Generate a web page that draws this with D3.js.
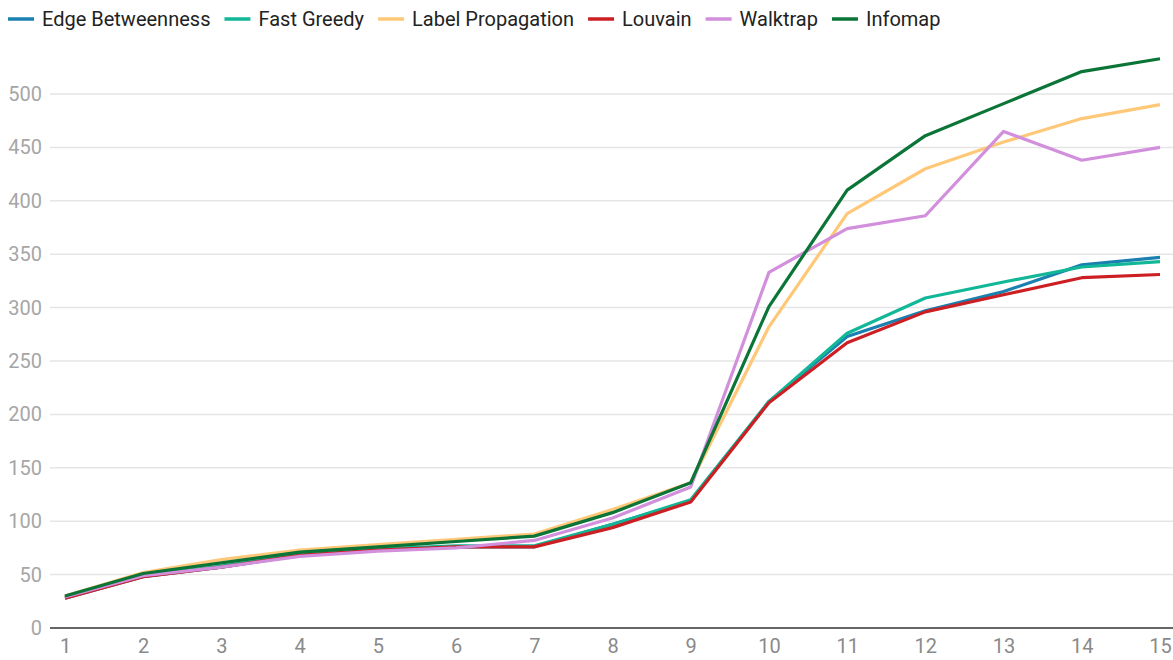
<!DOCTYPE html>
<html>
<head>
<meta charset="utf-8">
<script src="https://cdn.jsdelivr.net/npm/d3@7"></script>
<style>
  html, body { margin: 0; padding: 0; background: #fff; }
  svg { display: block; font-family: Roboto, "Noto Sans", sans-serif; }
</style>
</head>
<body>
<svg id="chart" width="1173" height="660"></svg>
<script>
// Step numbers along the x axis
const steps = [1, 2, 3, 4, 5, 6, 7, 8, 9, 10, 11, 12, 13, 14, 15];
const yTicks = [0, 50, 100, 150, 200, 250, 300, 350, 400, 450, 500];

// One array per community detection algorithm
const edgeBetweenness = [28, 48, 57, 68, 73, 76, 76, 97, 119, 212, 273, 297, 315, 340, 347];
const fastGreedy      = [29, 49, 58, 69, 74, 77, 77, 97, 120, 212, 276, 309, 324, 338, 343];
const labelPropagation= [30, 52, 64, 73, 78, 83, 88, 111, 136, 282, 388, 430, 455, 477, 490];
const louvain         = [28, 48, 57, 68, 73, 76, 76, 94, 118, 211, 267, 296, 312, 328, 331];
const walktrap        = [29, 49, 57, 67, 72, 75, 82, 103, 132, 333, 374, 386, 465, 438, 450];
const infomap         = [30, 51, 61, 71, 76, 81, 86, 108, 136, 301, 410, 461, 491, 521, 533];

const seriesNames  = ["Edge Betweenness", "Fast Greedy", "Label Propagation", "Louvain", "Walktrap", "Infomap"];
const seriesValues = [edgeBetweenness, fastGreedy, labelPropagation, louvain, walktrap, infomap];
const seriesColors = ["#1a80b0", "#12b797", "#ffc878", "#cc1f24", "#d18fdc", "#0b7437"];

const svg = d3.select("#chart");
const gridLeft = 50, gridRight = 1173;

const x = d3.scaleLinear().domain([1, 15]).range([65, 1160]);
const y = d3.scaleLinear().domain([0, 500]).range([628, 94]);

// Horizontal gridlines
svg.append("g")
  .selectAll("line")
  .data(yTicks.filter(d => d > 0))
  .join("line")
  .attr("x1", gridLeft).attr("x2", gridRight)
  .attr("y1", d => y(d)).attr("y2", d => y(d))
  .attr("stroke", "#e5e5e5").attr("stroke-width", 1.5);

// Y axis labels
const yAxis = svg.append("g")
  .attr("transform", `translate(${gridLeft - 8},0)`)
  .call(d3.axisLeft(y).tickValues(yTicks).tickSize(0).tickPadding(0));
yAxis.select(".domain").remove();
yAxis.selectAll("text")
  .attr("fill", "#a6a6a6")
  .style("font-size", "20px")
  .style("font-family", "Roboto, sans-serif");

// X axis labels
const xAxis = svg.append("g")
  .attr("transform", `translate(0,${y(0)})`)
  .call(d3.axisBottom(x).tickValues(steps).tickFormat(d3.format("d")).tickSize(0).tickPadding(11));
xAxis.select(".domain").remove();
xAxis.selectAll("text")
  .attr("fill", "#8a8a8a")
  .style("font-size", "20px")
  .style("font-family", "Roboto, sans-serif");

// Baseline
svg.append("line")
  .attr("x1", gridLeft).attr("x2", gridRight)
  .attr("y1", y(0)).attr("y2", y(0))
  .attr("stroke", "#333").attr("stroke-width", 1.5);

// Series lines
const line = d3.line()
  .x((d, i) => x(steps[i]))
  .y(d => y(d));

svg.append("g")
  .selectAll("path")
  .data(seriesValues)
  .join("path")
  .attr("d", d => line(d))
  .attr("fill", "none")
  .attr("stroke", (d, i) => seriesColors[i])
  .attr("stroke-width", 3.2)
  .attr("stroke-linejoin", "round")
  .attr("stroke-linecap", "butt");

// Legend across the top
const legend = svg.append("g").attr("transform", "translate(8,19)");
let cursor = 0;
seriesNames.forEach((name, i) => {
  const item = legend.append("g").attr("transform", `translate(${cursor},0)`);
  item.append("line")
    .attr("x1", 0).attr("x2", 26).attr("y1", 0).attr("y2", 0)
    .attr("stroke", seriesColors[i]).attr("stroke-width", 3.5);
  const t = item.append("text")
    .attr("x", 34).attr("y", 0).attr("dy", "0.35em")
    .attr("fill", "#222")
    .style("font-size", "20px")
    .text(name);
  cursor += 34 + t.node().getComputedTextLength() + 14;
});
</script>
</body>
</html>
